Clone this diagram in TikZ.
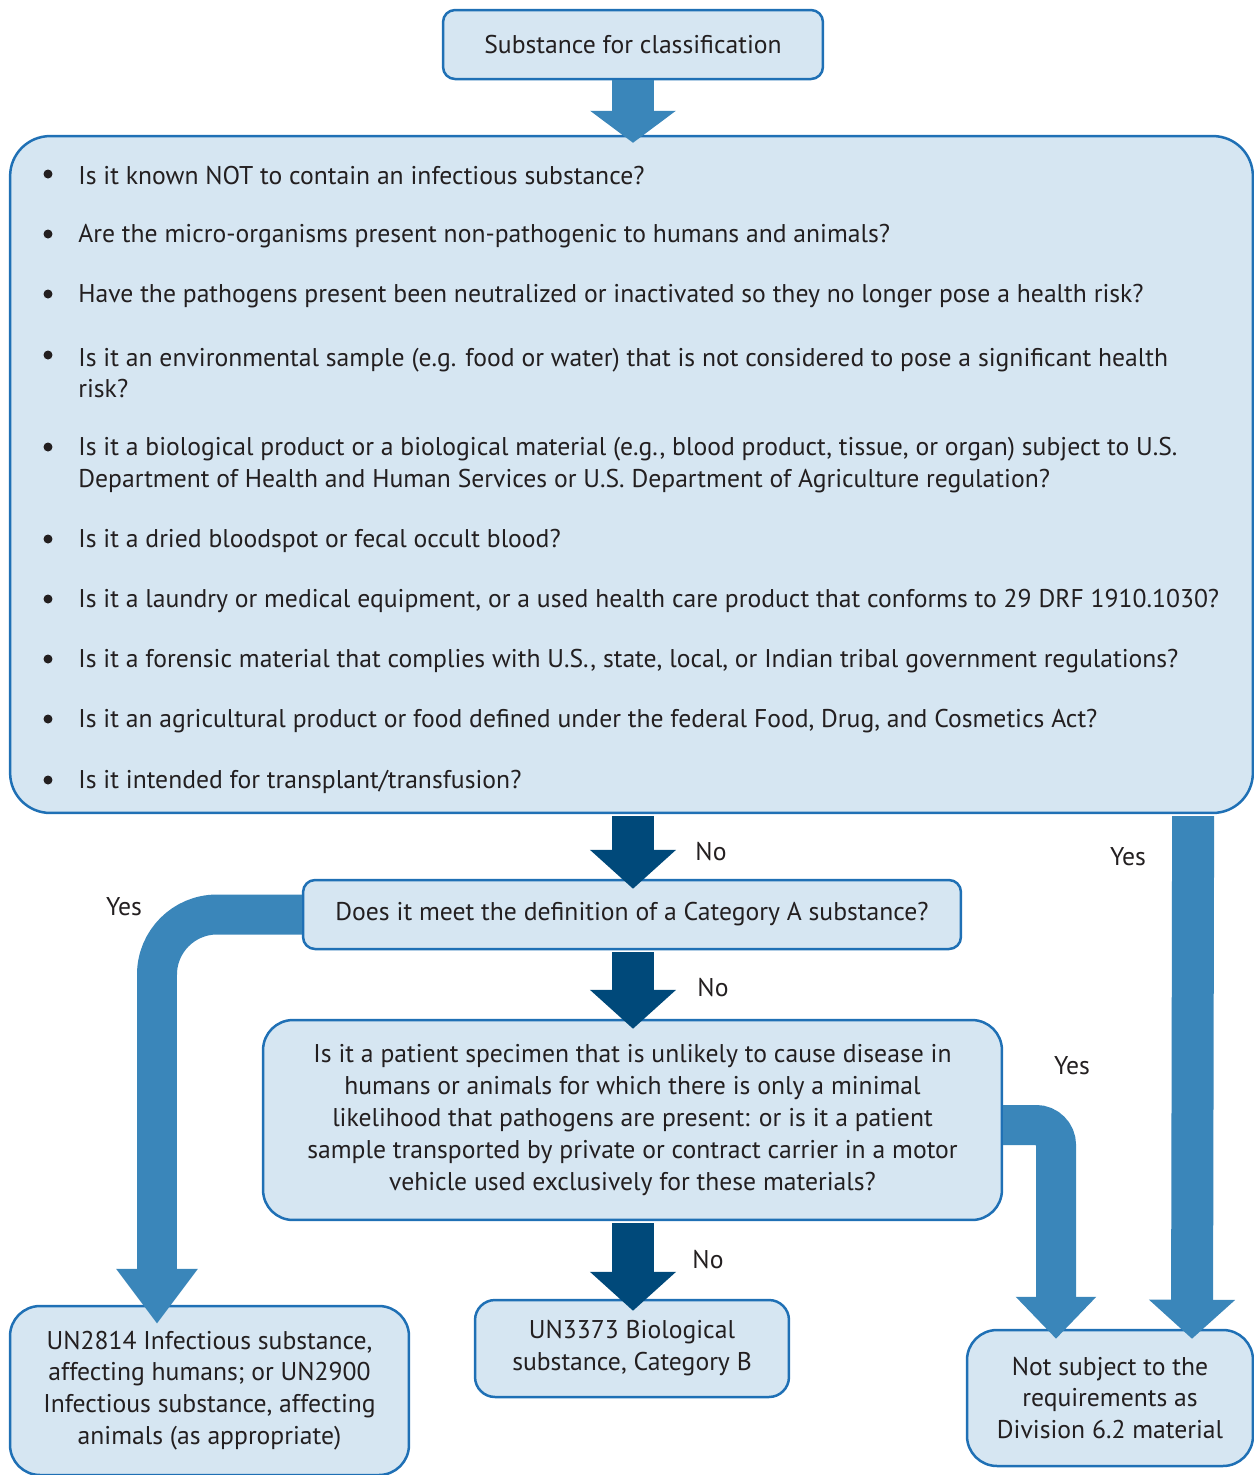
\documentclass[tikz,border=0pt]{standalone}
\usepackage{fontspec}
\setmainfont{PT Sans}
\usetikzlibrary{arrows.meta,positioning,calc}
\definecolor{boxfill}{HTML}{D6E6F2}
\definecolor{boxline}{HTML}{1F70B5}
\definecolor{midblue}{HTML}{3A86BA}
\definecolor{darkblue}{HTML}{00497A}
\definecolor{ink}{HTML}{231F20}
\tikzset{
  box/.style={draw=boxline, fill=boxfill, line width=0.05cm, rounded corners=0.24cm,
    align=center, text=ink, inner sep=0pt},
  fat/.style={line width=0.84cm, -{Triangle[width=1.68cm,length=0.78cm]}},
  noarrow/.style={fat, darkblue},
  yesarrow/.style={fat, midblue},
  lbl/.style={text=ink, inner sep=0pt},
  dot/.style={circle, fill=ink, inner sep=0pt, minimum size=0.18cm},
}

\begin{document}
\begin{tikzpicture}[x=0.02cm, y=-0.02cm, font=\fontsize{14.6}{18.14}\selectfont]
	\useasboundingbox (0,0) rectangle (1254,1475);
	% boxes
	\node[box, minimum width=7.6cm, minimum height=1.38cm] (start) at (633,44.5) {Substance for classification};
	\node[box, rounded corners=0.8cm, minimum width=24.86cm, minimum height=13.54cm] (checks) at (631.5,474.5) {};
	\foreach \i/\b/\y/\t in {
		1/174/176/{Is it known NOT to contain an infectious substance?},
		2/234/236/{Are the micro-organisms present non-pathogenic to humans and animals?},
		3/294/296/{Have the pathogens present been neutralized or inactivated so they no longer pose a health risk?},
		4/355/373/{Is it an environmental sample (e.g. food or water) that is not considered to pose a significant health\\risk?},
		5/447/465/{Is it a biological product or a biological material (e.g., blood product, tissue, or organ) subject to U.S.\\Department of Health and Human Services or U.S. Department of Agriculture regulation?},
		6/539/541/{Is it a dried bloodspot or fecal occult blood?},
		7/599/601/{Is it a laundry or medical equipment, or a used health care product that conforms to 29 DRF 1910.1030?},
		8/659/661/{Is it a forensic material that complies with U.S., state, local, or Indian tribal government regulations?},
		9/719/721/{Is it an agricultural product or food defined under the federal Food, Drug, and Cosmetics Act?},
		10/780/782/{Is it intended for transplant/transfusion?}}{
		\node[dot] (b\i) at (48,\b) {};
		\node[lbl, anchor=west, align=left] (q\i) at (78,\y) {\t};
	}
	\node[box, minimum width=13.16cm, minimum height=1.38cm] (catA) at (632,914.5) {Does it meet the definition of a Category A substance?};
	\node[box, rounded corners=0.6cm, minimum width=14.78cm, minimum height=4cm] (patient) at (632.5,1120)
		{Is it a patient specimen that is unlikely to cause disease in\\humans or animals for which there is only a minimal\\likelihood that pathogens are present: or is it a patient\\sample transported by private or contract carrier in a motor\\vehicle used exclusively for these materials?};
	\node[box, rounded corners=0.4cm, minimum width=6.28cm, minimum height=1.94cm] (catB) at (632,1348.5) {UN3373 Biological\\substance, Category B};
	\node[box, rounded corners=0.6cm, minimum width=7.98cm, minimum height=3.38cm] (infect) at (209.5,1390.5)
		{UN2814 Infectious substance,\\affecting humans; or UN2900\\Infectious substance, affecting\\animals (as appropriate)};
	\node[box, rounded corners=0.6cm, minimum width=5.72cm, minimum height=2.72cm] (exempt) at (1110,1398)
		{Not subject to the\\requirements as\\Division 6.2 material};
	% arrows
	\draw[yesarrow, -{Triangle[width=1.68cm,length=0.64cm]}] (start.south) -- ($(start.south |- checks.north)+(0,8)$);
	\draw[noarrow] ($(start.south |- checks.south)+(0,2)$) -- ($(start.south |- catA.north)+(0,10)$);
	\draw[noarrow] ($(start.south |- catA.south)+(0,2)$) -- ($(start.south |- patient.north)+(0,10)$);
	\draw[noarrow] ($(start.south |- patient.south)+(0,2)$) -- ($(start.south |- catB.north)+(0,12)$);
	\draw[yesarrow] ($(checks.south east)+(-61,2)$) -- ($(exempt.north)+(82,10)$);
	\draw[yesarrow, line width=0.8cm, -{Triangle[width=1.56cm,length=1.1cm]}, rounded corners=1.2cm]
		(catA.west) -| ($(infect.north)+(-52.5,19)$);
	\draw[yesarrow, line width=0.8cm, -{Triangle[width=1.56cm,length=0.84cm]}, rounded corners=0.4cm]
		($(patient.east)+(0,5)$) -| ($(exempt.north)+(-54,10)$);
	% labels
	\node[lbl] (no1) at (711,852) {No};
	\node[lbl] (no2) at (713,988) {No};
	\node[lbl] (no3) at (708,1260) {No};
	\node[lbl] (yes1) at (1128,857) {Yes};
	\node[lbl] (yes2) at (124,907) {Yes};
	\node[lbl] (yes3) at (1072,1066) {Yes};
\end{tikzpicture}
\end{document}
